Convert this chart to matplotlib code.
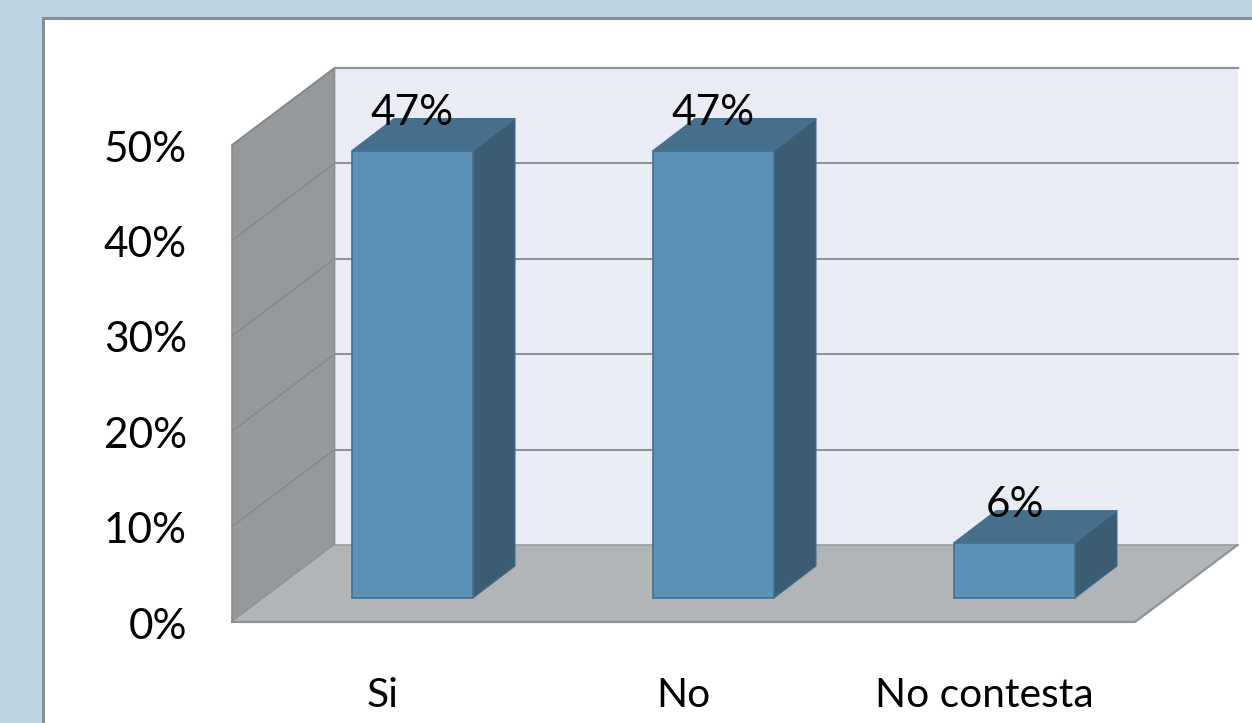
import matplotlib
matplotlib.use("Agg")
import matplotlib.pyplot as plt
from matplotlib.patches import Polygon, Rectangle
from matplotlib.transforms import ScaledTranslation

categories = ["Si", "No", "No contesta"]
values = [46.9, 46.9, 5.8]
y_ticks = [0, 10, 20, 30, 40, 50]

W, H = 1252, 723
plt.rcParams["font.family"] = ["Lato", "DejaVu Sans"]

fig = plt.figure(figsize=(W / 100, H / 100), dpi=100, facecolor="#BDD3E1")
fig.add_artist(Rectangle((43 / W, -5 / H), (W - 43 + 5) / W, (H - 18 + 5) / H, transform=fig.transFigure,
                         facecolor="white", edgecolor="#8C8E90", linewidth=2.2, zorder=-1))

# front plane of the 3d box
ax = fig.add_axes([232 / W, (H - 622) / H, (1135 - 232) / W, (622 - 145) / H])
ax.set_xlim(-0.5, 2.5)
ax.set_ylim(0, 50)
ax.patch.set_visible(False)
for s in ax.spines.values():
    s.set_visible(False)

x_unit = (1135 - 232) / 3
y_unit = (622 - 145) / 50
depth_x = 102.5 / x_unit
depth_y = 77 / y_unit
x0, x1 = -0.5, 2.5
y_top = 50


def poly(points, face, edge="none", lw=0, z=1):
    ax.add_patch(Polygon(points, closed=True, facecolor=face, edgecolor=edge, linewidth=lw,
                         zorder=z, clip_on=False, joinstyle="round"))


grid = "#8F9294"
# back wall, side wall, floor
poly([(x0 + depth_x, depth_y), (x1 + depth_x, depth_y), (x1 + depth_x, y_top + depth_y), (x0 + depth_x, y_top + depth_y)],
     "#E9ECF5", z=1)
poly([(x0, 0), (x0 + depth_x, depth_y), (x0 + depth_x, y_top + depth_y), (x0, y_top)], "#96999B", edge="#8A8D8F", lw=1.2, z=2)
poly([(x0, 0), (x1, 0), (x1 + depth_x, depth_y), (x0 + depth_x, depth_y)], "#B2B5B8", z=2)
ax.plot([x0, x1, x1 + depth_x], [0, 0, depth_y], color=grid, lw=1.6, zorder=3, clip_on=False)
ax.plot([x0 + depth_x, x1 + depth_x], [depth_y, depth_y], color="#9A9C9E", lw=1.2, zorder=3, clip_on=False)
ax.plot([x0 + depth_x, x1 + depth_x], [y_top + depth_y] * 2, color="#A6A8AA", lw=1.6, zorder=3, clip_on=False)
for t in y_ticks[1:]:
    ax.plot([x0, x0 + depth_x], [t, t + depth_y], color="#85888A", lw=1.0, zorder=3, clip_on=False)
    ax.plot([x0 + depth_x, x1 + depth_x], [t + depth_y, t + depth_y], color=grid, lw=1.4, zorder=3, clip_on=False)

# bars sit in the middle of the depth
bar_w = 121 / x_unit
shift_x = 30 / x_unit
shift_y = 24 / y_unit
bar_dx = 42 / x_unit
bar_dy = 32 / y_unit
edge = "#44708F"
for i, v in enumerate(values):
    left = i + shift_x - bar_w / 2
    right = left + bar_w
    base = shift_y
    top = shift_y + v
    poly([(right, base), (right + bar_dx, base + bar_dy), (right + bar_dx, top + bar_dy), (right, top)],
         "#3B5C73", edge=edge, lw=0.8, z=5)
    poly([(left, top), (right, top), (right + bar_dx, top + bar_dy), (left + bar_dx, top + bar_dy)],
         "#466F8C", edge=edge, lw=0.8, z=5)
    ax.bar(i + shift_x, v, bottom=base, width=bar_w, color="#5C92B8", edgecolor=edge, linewidth=1.2, zorder=6, clip_on=False)
    ax.text(i + shift_x, top + 37.5 / y_unit, f"{v:.0f}%", ha="center", va="center", fontsize=30.5, color="black",
            zorder=8, clip_on=False)

ax.set_xticks(range(len(categories)))
ax.set_xticklabels(categories)
ax.set_yticks(y_ticks)
ax.set_yticklabels([f"{t}%" for t in y_ticks])
ax.tick_params(axis="x", length=0, labelsize=29.3, labelcolor="black", pad=39.5)
ax.tick_params(axis="y", length=0, labelsize=30.5, labelcolor="black", pad=32.5)

# labels sit a little below the tick height in the original
for lab in ax.get_yticklabels():
    lab.set_transform(lab.get_transform() + ScaledTranslation(0, -1.2 / 100, fig.dpi_scale_trans))

fig.savefig("out.png", dpi=100, facecolor=fig.get_facecolor())
